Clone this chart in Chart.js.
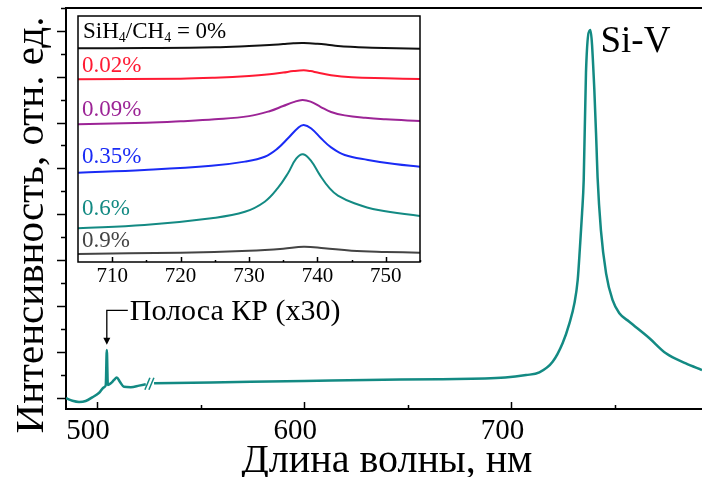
<!DOCTYPE html>
<html>
<head>
<meta charset="utf-8">
<script src="https://cdn.jsdelivr.net/npm/chart.js@4.4.1/dist/chart.umd.min.js"></script>
<style>
  html, body { margin: 0; padding: 0; background: #fff; }
  #wrap { position: relative; width: 702px; height: 477px; overflow: hidden; }
  #mainChart { position: absolute; left: 0; top: 0; }
  #insetChart { position: absolute; left: 60px; top: 8px; }
</style>
</head>
<body>
<div id="wrap">
  <canvas id="mainChart" width="702" height="477"></canvas>
  <canvas id="insetChart" width="380" height="290"></canvas>
</div>
<script>
// Main spectrum (0.6% sample), wavelength in nm, intensity in arb. units
const mainWl = [485, 488.1, 491.3, 494.5, 497.7, 501, 503.4, 504.2, 504.7, 505.2, 506.6, 508.2, 509.5, 511, 513, 516.3, 520.3, 523.5, 525.5,
  527.5, 555, 600, 630, 665, 697, 707.1, 713.5, 719.9, 724.7, 728.0, 730.4, 732.0, 733.1, 734.1, 734.9, 736.0, 738.1,
  740.0, 741.1, 741.6, 743.2, 745.7, 748.8, 752.1, 756.9, 766.5, 774.6, 784.2, 792];
const mainInt = [-0.03, -0.14, -0.19, -0.15, 0.01, 0.21, 0.45, 0.55, 2.08, 0.55, 0.62, 0.77, 0.88, 0.69, 0.47, 0.45, 0.52, 0.58, null,
  0.62, 0.66, 0.72, 0.77, 0.80, 0.87, 0.98, 1.1, 1.56, 2.37, 3.24, 4.11, 5.13, 6.58, 8.04, 9.5, 14.2, 16.04,
  13.5, 10.9, 9.6, 7.31, 5.42, 4.26, 3.68, 3.31, 2.6, 1.93, 1.49, 1.20];
const mainXTicks = [500, 550, 600, 650, 700, 750];
const mainYTicks = [0, 1, 2, 3, 4, 5, 6, 7, 8, 9, 10, 11, 12, 13, 14, 15, 16, 17];

// Inset: Si-V line for different SiH4/CH4 ratios (offset curves)
const wl0 = [705, 715, 725, 730, 733, 735, 736.5, 738, 740, 741.5, 743, 745.5, 748, 755];
const int0 = [86.9, 87.0, 87.3, 87.8, 88.2, 88.6, 88.9, 89.0, 88.7, 88.3, 87.8, 87.4, 87.1, 86.7];
const wl002 = [705, 720, 725, 730, 733, 735, 736.5, 738, 739, 740, 742, 745, 750, 755];
const int002 = [74.3, 74.5, 74.9, 75.6, 76.3, 77.0, 77.6, 77.9, 77.6, 77.0, 75.9, 75.1, 74.7, 74.4];
const wl009 = [705, 715, 720, 725, 730, 733, 735, 736.5, 737.8, 739, 740.5, 742, 744, 747, 750, 755];
const int009 = [56.0, 56.6, 57.2, 58.0, 59.3, 61.3, 63.4, 65.0, 65.9, 65.2, 63.0, 61.0, 59.6, 58.6, 58.0, 57.3];
const wl035 = [705, 714.7, 724.5, 729.4, 732.3, 734.2, 735.7, 737.2, 738.0, 739.1, 740.6, 742.0, 744.0, 747.4, 751.3, 755];
const int035 = [36.3, 37.4, 39.1, 40.8, 42.8, 46.2, 50.3, 54.6, 55.7, 54.3, 50.1, 46.6, 43.5, 41.5, 39.8, 38.7];
const wl06 = [705, 714.7, 724.5, 729.4, 732.3, 734.2, 735.7, 736.9, 737.9, 739.1, 740.3, 741.8, 743.0, 745.4, 748.9, 755];
const int06 = [13.7, 15.0, 17.8, 20.4, 24.5, 30.0, 36.1, 42.0, 43.8, 41.0, 35.6, 29.9, 27.0, 23.9, 21.1, 18.7];
const wl09 = [705, 720, 730, 735, 738, 741, 745, 750, 755];
const int09 = [3.3, 3.8, 4.6, 5.4, 6.2, 5.6, 4.6, 4.1, 3.8];
const insetXTicks = [710, 715, 720, 725, 730, 735, 740, 745, 750, 755];

const serif = "'Liberation Serif', 'Times New Roman', serif";
const teal = '#138a83';

function pts(xs, ys) {
  return xs.map((x, i) => ({ x: x, y: ys[i] }));
}

// ---------- main chart ----------
const mainDecor = {
  id: 'mainDecor',
  afterDraw(chart) {
    const { ctx, chartArea: a, scales: { x, y } } = chart;
    ctx.save();
    ctx.strokeStyle = '#000';
    ctx.lineWidth = 2;
    ctx.beginPath();
    ctx.moveTo(a.left, a.top);
    ctx.lineTo(a.right, a.top);
    ctx.stroke();

    // x ticks point inward
    ctx.lineWidth = 1.5;
    mainXTicks.forEach(v => {
      const px = Math.round(x.getPixelForValue(v)) + 0.5;
      const len = v % 100 === 0 ? 7 : 4;
      ctx.beginPath();
      ctx.moveTo(px, a.bottom);
      ctx.lineTo(px, a.bottom - len);
      ctx.stroke();
    });
    // y ticks point outward
    mainYTicks.forEach(v => {
      const py = Math.round(y.getPixelForValue(v)) + 0.5;
      const len = v % 2 === 0 ? 9 : 5;
      ctx.beginPath();
      ctx.moveTo(a.left, py);
      ctx.lineTo(a.left - len, py);
      ctx.stroke();
    });

    // axis break marks
    const bx = x.getPixelForValue(525.5);
    const by = y.getPixelForValue(0.6);
    ctx.strokeStyle = teal;
    ctx.lineWidth = 1.5;
    [-2, 2].forEach(d => {
      ctx.beginPath();
      ctx.moveTo(bx + d - 3, by + 6);
      ctx.lineTo(bx + d + 2, by - 6);
      ctx.stroke();
    });

    // Raman band arrow
    const ax = x.getPixelForValue(504.7);
    const tipY = y.getPixelForValue(2.3);
    const topY = y.getPixelForValue(3.8);
    ctx.strokeStyle = '#000';
    ctx.fillStyle = '#000';
    ctx.lineWidth = 1.3;
    ctx.beginPath();
    ctx.moveTo(ax + 21, topY);
    ctx.lineTo(ax, topY);
    ctx.lineTo(ax, tipY - 6);
    ctx.stroke();
    ctx.beginPath();
    ctx.moveTo(ax - 3.5, tipY - 7);
    ctx.lineTo(ax + 3.5, tipY - 7);
    ctx.lineTo(ax, tipY);
    ctx.closePath();
    ctx.fill();

    ctx.font = '30px ' + serif;
    ctx.textBaseline = 'middle';
    ctx.textAlign = 'left';
    ctx.fillText('Полоса КР (x30)', ax + 23, topY + 2);

    ctx.font = '37px ' + serif;
    ctx.textBaseline = 'alphabetic';
    ctx.fillText('Si-V', x.getPixelForValue(743), y.getPixelForValue(15.1));

    // axis titles
    ctx.font = '40px ' + serif;
    ctx.textAlign = 'center';
    ctx.fillText('Длина волны, нм', (a.left + a.right) / 2 + 3, 472);
    ctx.translate(43, 225);
    ctx.rotate(-Math.PI / 2);
    ctx.font = '41px ' + serif;
    ctx.fillText('Интенсивность, отн. ед.', 0, 0);
    ctx.restore();
  }
};

new Chart(document.getElementById('mainChart'), {
  type: 'line',
  data: {
    datasets: [{
      label: 'spectrum',
      data: pts(mainWl, mainInt),
      borderColor: teal,
      borderWidth: 2.5,
      pointRadius: 0,
      cubicInterpolationMode: 'monotone',
      spanGaps: false
    }]
  },
  options: {
    responsive: false,
    animation: false,
    layout: { padding: { top: 8, right: 0, left: 0, bottom: 0 } },
    plugins: { legend: { display: false }, tooltip: { enabled: false } },
    scales: {
      x: {
        type: 'linear',
        min: 485,
        max: 792,
        afterBuildTicks: s => { s.ticks = [500, 600, 700].map(v => ({ value: v })); },
        afterFit: s => { s.height = 68; },
        grid: { display: false, drawTicks: false },
        border: { display: true, color: '#000', width: 2 },
        ticks: { color: '#000', padding: 5, labelOffset: -9, maxRotation: 0, font: { family: serif, size: 29 } }
      },
      y: {
        min: -0.5,
        max: 17,
        afterFit: s => { s.width = 66; },
        grid: { display: false, drawTicks: false },
        border: { display: true, color: '#000', width: 2 },
        ticks: { display: false }
      }
    }
  },
  plugins: [mainDecor]
});

// ---------- inset ----------
const insetLabels = [
  { text: '0.02%', color: '#ff1a33', at: 79.7 },
  { text: '0.09%', color: '#9c2496', at: 61.8 },
  { text: '0.35%', color: '#1a2bf5', at: 42.7 },
  { text: '0.6%', color: teal, at: 21.5 },
  { text: '0.9%', color: '#444', at: 8.5 }
];

const insetDecor = {
  id: 'insetDecor',
  beforeDraw(chart) {
    const { ctx, chartArea: a } = chart;
    ctx.save();
    ctx.fillStyle = '#fff';
    ctx.fillRect(a.left, a.top, a.right - a.left, a.bottom - a.top);
    ctx.restore();
  },
  afterDraw(chart) {
    const { ctx, chartArea: a, scales: { x, y } } = chart;
    ctx.save();
    ctx.strokeStyle = '#000';
    ctx.lineWidth = 1.5;
    ctx.strokeRect(a.left, a.top, a.right - a.left, a.bottom - a.top);
    insetXTicks.forEach(v => {
      const px = Math.round(x.getPixelForValue(v)) + 0.5;
      const len = v % 10 === 0 ? 5 : 2;
      ctx.beginPath();
      ctx.moveTo(px, a.bottom);
      ctx.lineTo(px, a.bottom - len);
      ctx.stroke();
    });

    ctx.textBaseline = 'middle';
    ctx.textAlign = 'left';
    const lx = a.left + 4;
    insetLabels.forEach(l => {
      ctx.font = '23px ' + serif;
      ctx.fillStyle = l.color;
      ctx.fillText(l.text, lx, y.getPixelForValue(l.at));
    });

    // header with subscripts
    const hy = y.getPixelForValue(93.5);
    let cx = lx + 1;
    ctx.fillStyle = '#000';
    const parts = [['SiH', false], ['4', true], ['/CH', false], ['4', true], [' = 0%', false]];
    parts.forEach(([t, sub]) => {
      ctx.font = (sub ? '14px ' : '23px ') + serif;
      ctx.fillText(t, cx, sub ? hy + 6 : hy);
      cx += ctx.measureText(t).width;
    });
    ctx.restore();
  }
};

function insetSet(name, xs, ys, color) {
  return {
    label: name,
    data: pts(xs, ys),
    borderColor: color,
    borderWidth: 2,
    pointRadius: 0,
    tension: 0.4
  };
}

new Chart(document.getElementById('insetChart'), {
  type: 'line',
  data: {
    datasets: [
      insetSet('0%', wl0, int0, '#111'),
      insetSet('0.02%', wl002, int002, '#ff1a33'),
      insetSet('0.09%', wl009, int009, '#9c2496'),
      insetSet('0.35%', wl035, int035, '#1a2bf5'),
      insetSet('0.6%', wl06, int06, teal),
      insetSet('0.9%', wl09, int09, '#444')
    ]
  },
  options: {
    responsive: false,
    animation: false,
    layout: { padding: { top: 8, right: 20, left: 18, bottom: 0 } },
    plugins: { legend: { display: false }, tooltip: { enabled: false } },
    scales: {
      x: {
        type: 'linear',
        min: 705,
        max: 755,
        afterBuildTicks: s => { s.ticks = [710, 720, 730, 740, 750].map(v => ({ value: v })); },
        afterFit: s => { s.height = 36; },
        grid: { display: false, drawTicks: false },
        border: { display: false },
        ticks: { color: '#000', padding: 2, maxRotation: 0, font: { family: serif, size: 21 } }
      },
      y: {
        display: false,
        min: 0,
        max: 100
      }
    }
  },
  plugins: [insetDecor]
});
</script>
</body>
</html>
